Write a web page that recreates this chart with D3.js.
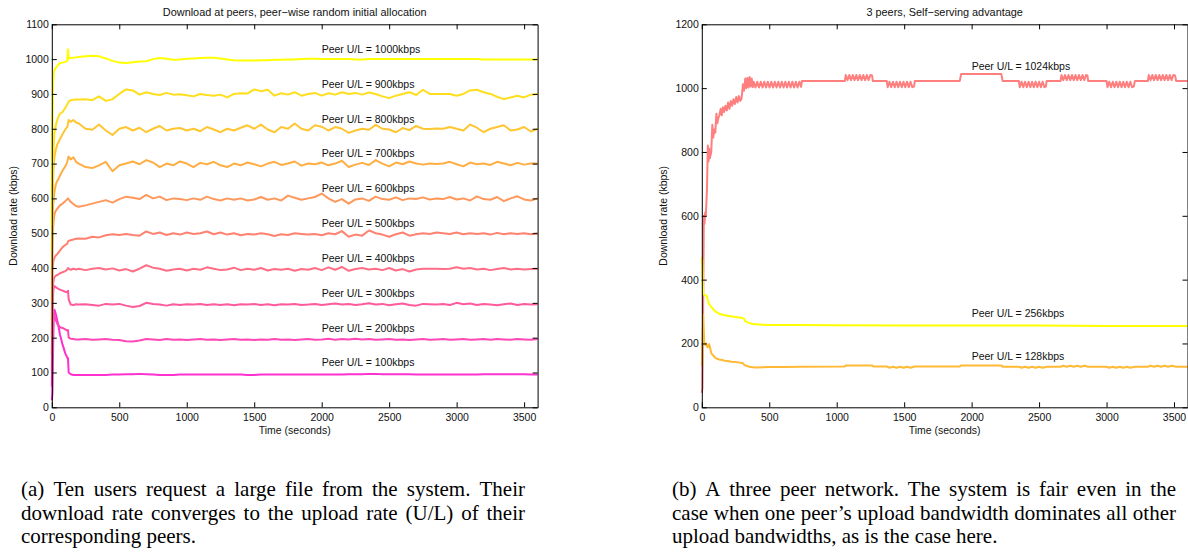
<!DOCTYPE html>
<html><head><meta charset="utf-8">
<script src="https://cdn.jsdelivr.net/npm/d3@7"></script>
<style>
body{margin:0;background:#fff}
svg{display:block}
.ax text{font-family:"Liberation Sans",Arial,Helvetica,sans-serif;font-size:10.5px;fill:#111}
.ax path,.ax line{stroke:#000;stroke-width:1}
.lbl{font-family:"Liberation Sans",Arial,Helvetica,sans-serif;fill:#111}
.cap{font-family:"Liberation Serif","Times New Roman",serif;font-size:21px;fill:#000}
</style>
</head><body>
<svg id="c" width="1188" height="553"></svg>
<script>
// ---------------- DATA (left panel) ----------------
const leftTimes = [0,5,10,15,20,30,40,50,60,80,100,115,120,125,140,160,180,
  200,250,300,350,400,450,500,550,600,650,
  700,750,800,850,900,950,1000,1050,1100,1150,
  1200,1250,1300,1350,1400,1450,1500,1550,1600,1650,
  1700,1750,1800,1850,1900,1950,2000,2050,2100,2150,
  2200,2250,2300,2350,2400,2450,2500,2550,2600,2650,
  2700,2750,2800,2850,2900,2950,3000,3050,3100,3150,
  3200,3250,3300,3350,3400,3450,3500,3550,3600];

const peer1000 = [520,800,930,962,968,975,980,985,988,990,992,995,1028,1002,1003,1004,1005,
  1006,1008,1010,1008,1002,995,990,989,991,993,
  994,1000,1003,1001,998,999,1001,1002,1003,1004,
  1004,1002,999,997,996,996,996,997,997,998,
  998,999,999,1000,1001,1001,1000,1000,1000,1000,
  1000,999,999,1000,1000,1000,1000,1000,1000,1000,
  1000,1000,1000,1000,1000,1000,1000,1000,1000,1000,
  999,999,999,999,999,999,999,999,999];
const peer900 = [450,620,720,760,790,810,825,835,843,848,860,870,874,878,882,883,884,
  884,885,882,893,880,885,900,913,910,898,
  905,900,897,903,898,899,896,893,900,897,
  895,898,890,900,902,901,913,908,912,895,
  902,898,905,895,900,903,895,902,898,905,
  900,903,898,904,900,893,888,895,900,905,
  897,912,900,900,900,900,895,900,910,912,
  905,900,892,885,890,895,890,898,900];
const peer800 = [380,560,660,700,720,740,755,762,770,785,798,805,815,825,820,825,818,
  815,800,797,812,795,782,800,805,795,803,
  790,800,808,795,800,802,795,800,793,805,
  798,790,800,795,803,810,800,812,798,790,
  805,800,815,800,795,810,806,795,805,800,
  788,795,800,797,811,800,798,790,802,796,
  808,800,799,801,800,805,800,795,812,803,
  790,800,805,810,795,798,805,792,800];
const peer700 = [300,520,580,600,620,640,650,656,665,680,692,705,715,720,712,718,705,
  700,690,687,695,705,678,695,700,706,698,
  710,703,690,700,695,706,700,690,702,698,
  705,695,690,700,695,703,698,692,700,705,
  696,700,706,694,700,698,703,695,700,708,
  690,697,702,696,710,700,692,703,698,706,
  700,697,700,699,700,705,698,692,703,698,
  700,696,705,700,695,702,697,700,700];
const peer600 = [250,470,520,540,555,565,570,575,580,585,592,598,600,597,590,584,578,
  576,580,585,590,595,588,598,605,602,598,
  610,600,605,595,600,598,595,600,596,605,
  598,594,600,596,600,594,597,604,596,600,
  594,608,602,596,600,604,614,600,590,598,
  585,597,600,593,605,598,596,603,595,600,
  598,603,597,600,598,604,597,600,594,606,
  598,596,604,592,600,606,597,594,600];
const peer500 = [200,390,415,425,430,436,440,445,450,460,466,470,476,478,480,482,484,
  485,484,490,488,494,497,495,498,495,493,
  505,498,502,495,500,496,502,498,500,505,
  497,502,496,500,494,498,496,500,497,492,
  497,495,500,498,496,498,494,500,497,506,
  490,496,493,508,500,496,490,497,502,493,
  497,500,498,502,500,498,502,497,500,498,
  500,496,501,497,500,498,500,497,500];
const peer400 = [150,320,355,368,374,378,380,382,385,388,391,396,400,398,395,398,396,
  398,394,398,400,396,399,393,397,390,398,
  408,401,398,392,396,398,393,398,395,402,
  398,394,396,401,394,398,395,400,393,397,
  395,398,392,397,395,400,394,402,395,403,
  392,397,400,396,398,394,400,393,397,390,
  396,398,398,398,397,398,402,398,400,396,
  398,394,397,400,396,398,396,397,398];
const peer300 = [100,250,330,345,348,345,342,340,338,335,332,330,335,310,295,294,296,
  295,296,294,292,297,295,297,292,288,291,
  300,297,295,292,296,294,296,295,297,294,
  296,294,296,293,296,295,297,294,296,293,
  296,295,297,294,295,297,294,296,298,295,
  297,294,296,299,295,297,293,296,298,294,
  292,297,296,295,297,294,300,296,298,294,
  297,295,293,296,298,294,297,295,296];
const peer200 = [60,180,262,270,262,250,240,235,230,228,224,220,222,200,197,196,195,
  195,196,194,195,196,194,193,190,189,192,
  196,195,193,196,194,195,193,195,196,194,
  195,193,195,196,194,195,193,195,194,196,
  194,195,193,195,196,194,195,197,194,196,
  195,197,195,196,194,195,196,194,195,193,
  195,196,194,195,196,194,195,196,194,195,
  196,194,196,195,194,196,195,194,196];
const peer100 = [20,40,180,265,280,268,250,232,210,180,155,142,141,100,95,93,93,
  93,93,93,93,93,94,94,95,95,96,
  95,94,93,93,93,94,94,94,94,94,
  94,94,94,94,94,93,93,94,94,94,
  94,94,94,94,94,94,94,94,94,94,
  95,95,95,96,96,95,95,95,95,95,
  94,94,94,94,94,94,94,94,94,94,
  95,95,95,95,95,95,95,94,94];

const leftRates = [100,200,300,400,500,600,700,800,900,1000];
const leftSeries = [peer100,peer200,peer300,peer400,peer500,peer600,peer700,peer800,peer900,peer1000];
const leftColors = ["#ff30d0","#ff48b5","#ff5a9c","#ff6e86","#ff8270","#ff985a","#ffae44","#ffc632","#ffde1e","#ffff00"];
const leftYTicks = [0,100,200,300,400,500,600,700,800,900,1000,1100];
const timeTicks = [0,500,1000,1500,2000,2500,3000,3500];

// ---------------- DATA (right panel) ----------------
const peer1024 = [[0,45],[5,60],[10,300],[15,600],[20,575],[25,610],[30,600],[38,680],[45,820],[50,770],[55,810],[60,780],[70,800],
  [78,885],[85,845],[92,870],[100,860],[108,920],[115,890],[122,905],[130,915],[140,935],[148,915],[156,940],[165,925],[175,945],
  [185,930],[195,955],[205,935],[215,960],[225,945],[235,965],[245,950],[255,972],[265,955],[275,975],[285,960],[295,968],
  [305,1012],[313,992],[322,1030],[330,1000],[338,1032],[346,1002],[354,1035],[362,1005],[370,1030],[378,1003],
  [385,1020],[398,1002],[411,1020],[424,1002],[437,1020],[450,1002],[463,1020],[476,1002],[489,1020],[502,1002],[515,1020],
  [528,1002],[541,1020],[554,1002],[567,1020],[580,1002],[593,1020],[606,1002],[619,1020],[632,1002],[645,1020],[658,1002],
  [671,1020],[684,1002],[697,1020],[710,1002],[723,1020],[736,1004],[742,1022],[1060,1022],
  [1067,1041],[1080,1025],[1093,1041],[1106,1025],[1119,1041],[1132,1025],[1145,1041],[1158,1025],[1171,1041],[1184,1025],
  [1197,1041],[1210,1025],[1223,1041],[1236,1025],[1249,1041],[1262,1040],[1268,1022],[1371,1022],
  [1378,1003],[1391,1020],[1404,1003],[1417,1020],[1430,1003],[1443,1020],[1456,1003],[1469,1020],[1482,1003],[1495,1020],
  [1508,1003],[1521,1020],[1534,1003],[1547,1020],[1560,1003],[1573,1005],[1579,1022],[1912,1022],[1922,1044],[2220,1044],
  [2230,1022],[2350,1022],
  [2357,1003],[2370,1020],[2383,1003],[2396,1020],[2409,1003],[2422,1020],[2435,1003],[2448,1020],[2461,1003],[2474,1020],
  [2487,1003],[2500,1020],[2513,1003],[2526,1020],[2539,1003],[2550,1005],[2556,1022],[2659,1022],
  [2666,1041],[2679,1025],[2692,1041],[2705,1025],[2718,1041],[2731,1025],[2744,1041],[2757,1025],[2770,1041],[2783,1025],
  [2796,1041],[2809,1025],[2822,1041],[2835,1025],[2848,1041],[2858,1040],[2864,1022],[3000,1022],
  [3007,1003],[3020,1020],[3033,1003],[3046,1020],[3059,1003],[3072,1020],[3085,1003],[3098,1020],[3111,1003],[3124,1020],
  [3137,1003],[3150,1020],[3163,1003],[3176,1020],[3189,1003],[3202,1005],[3210,1022],[3306,1022],
  [3313,1041],[3326,1025],[3339,1041],[3352,1025],[3365,1041],[3378,1025],[3391,1041],[3404,1025],[3417,1041],[3430,1025],
  [3443,1041],[3456,1025],[3469,1041],[3482,1025],[3495,1041],[3508,1040],[3516,1022],[3600,1022]];

const peer256 = [[0,470],[4,460],[8,380],[12,355],[20,352],[30,350],[38,348],[45,335],[52,325],[60,320],[75,312],[90,305],
  [110,298],[130,293],[160,289],[200,286],[250,283],[300,280],[312,278],[322,270],[340,266],[370,262],[400,260],[450,259],
  [500,258],[700,258],[1000,257],[1500,256],[2000,256],[2500,256],[3000,255],[3600,255]];

const peer128 = [[0,130],[3,135],[7,240],[10,290],[14,250],[18,205],[22,200],[27,195],[32,200],[40,190],[47,188],[55,198],
  [62,185],[70,170],[78,165],[90,160],[100,155],[115,152],[130,150],[150,148],[170,146],[190,145],[220,143],[250,142],
  [280,140],[306,138],[312,134],[330,130],[345,128],[360,126],[400,125],[500,126],[600,126],[740,127],[1060,128],
  [1065,131],[1265,131],[1270,128],[1371,128],
  [1391,124],[1417,127],[1443,124],[1469,127],[1495,124],[1521,127],[1547,124],[1579,128],[1912,128],[1920,131],[2222,131],
  [2230,127],[2350,127],[2370,124],[2396,127],[2422,124],[2448,127],[2474,124],[2500,127],[2526,124],[2556,127],[2659,127],
  [2679,130],[2705,127],[2731,130],[2757,127],[2783,130],[2809,127],[2835,130],[2864,127],[3000,127],
  [3020,124],[3046,127],[3072,124],[3098,127],[3124,124],[3150,127],[3176,124],[3210,127],[3306,127],
  [3326,130],[3352,127],[3378,130],[3404,127],[3430,130],[3456,127],[3482,130],[3516,127],[3600,127]];

const rightRates = [1024,256,128];
const rightSeries = [peer1024,peer256,peer128];
const rightColors = ["#ff7f7f","#ffff00","#ffb935"];
const rightLabelAt = [1069,295,161];
const rightYTicks = [0,200,400,600,800,1000,1200];

const titles = ["Download at peers, peer\u2212wise random initial allocation","3 peers, Self\u2212serving advantage"];
const xLabel = "Time (seconds)";
const yLabel = "Download rate (kbps)";
const captionA = ["(a) Ten users request a large file from the system. Their",
  "download rate converges to the upload rate (U/L) of their",
  "corresponding peers."];
const captionB = ["(b) A three peer network. The system is fair even in the",
  "case when one peer\u2019s upload bandwidth dominates all other",
  "upload bandwidths, as is the case here."];

// ---------------- DRAWING ----------------
const svg = d3.select("#c");
svg.append("rect").attr("width",1188).attr("height",553).attr("fill","#fff");
const fmt = d3.format("d");

function panel(opt){
  const x = d3.scaleLinear().domain([0,3600]).range([opt.x0,opt.x1]);
  const y = d3.scaleLinear().domain(opt.yDomain).range([opt.y1,opt.y0]);
  const g = svg.append("g");
  const line = d3.line().x(d=>x(d[0])).y(d=>y(d[1]));
  opt.series.forEach((s,i)=>{
    g.append("path").attr("d",line(s)).attr("fill","none")
      .attr("stroke",opt.colors[i]).attr("stroke-width",2).attr("stroke-linejoin","round");
  });
  const ax = svg.append("g").attr("class","ax");
  ax.append("g").attr("transform",`translate(0,${opt.y1})`)
    .call(d3.axisBottom(x).tickValues(timeTicks).tickFormat(fmt).tickSizeInner(-5).tickSizeOuter(0).tickPadding(6.5));
  ax.append("g").attr("transform",`translate(0,${opt.y0})`)
    .call(d3.axisTop(x).tickValues(timeTicks).tickSizeInner(-5).tickSizeOuter(0).tickFormat(""));
  ax.append("g").attr("transform",`translate(${opt.x0},0)`)
    .call(d3.axisLeft(y).tickValues(opt.yTicks).tickFormat(fmt).tickSizeInner(-5).tickSizeOuter(0).tickPadding(3));
  ax.append("g").attr("transform",`translate(${opt.x1},0)`)
    .call(d3.axisRight(y).tickValues(opt.yTicks).tickSizeInner(-5).tickSizeOuter(0).tickFormat(""));
  opt.labels.forEach(l=>{
    svg.append("text").attr("class","lbl").attr("x",x(2000)).attr("y",y(l.v))
      .attr("dy","0.35em").style("font-size","10.5px").text(l.text);
  });
  const cx = (opt.x0+opt.x1)/2;
  svg.append("text").attr("class","lbl").attr("x",cx).attr("y",12.5).attr("dy","0.35em")
    .attr("text-anchor","middle").style("font-size","10.9px").text(opt.title);
  svg.append("text").attr("class","lbl").attr("x",cx).attr("y",430.5).attr("dy","0.35em")
    .attr("text-anchor","middle").style("font-size","10.5px").text(xLabel);
  svg.append("text").attr("class","lbl").attr("transform",`translate(${opt.yl},${(opt.y0+opt.y1)/2}) rotate(-90)`)
    .attr("dy","0.35em").attr("text-anchor","middle").style("font-size","10.5px").text(yLabel);
}

panel({
  x0:51.8, x1:537.6, y0:24.3, y1:407.3, yDomain:[0,1100], yTicks:leftYTicks,
  series: leftSeries.map(s=>s.map((v,i)=>[leftTimes[i],v])),
  colors: leftColors,
  labels: leftRates.map(r=>({v:r+28,text:`Peer U/L = ${r}kbps`})),
  title: titles[0], yl: 13.5
});
panel({
  x0:701.8, x1:1187.5, y0:24.3, y1:407.3, yDomain:[0,1200], yTicks:rightYTicks,
  series: rightSeries, colors: rightColors,
  labels: rightRates.map((r,i)=>({v:rightLabelAt[i],text:`Peer U/L = ${r}kbps`})),
  title: titles[1], yl: 663.5
});

function caption(lines, x, width, baselines){
  lines.forEach((ln,li)=>{
    if(li===lines.length-1){
      svg.append("text").attr("class","cap").attr("x",x).attr("y",baselines[li]).text(ln);
      return;
    }
    const words = ln.split(" ");
    const nodes = words.map(w=>svg.append("text").attr("class","cap").attr("y",baselines[li]).text(w));
    const widths = nodes.map(n=>n.node().getComputedTextLength());
    const total = d3.sum(widths);
    const gap = (width-total)/(words.length-1);
    let cur = x;
    nodes.forEach((n,i)=>{ n.attr("x",cur); cur += widths[i]+gap; });
  });
}
caption(captionA, 21, 504, [496,519.5,543]);
caption(captionB, 672, 504, [496,519.5,543]);
</script>
</body></html>
